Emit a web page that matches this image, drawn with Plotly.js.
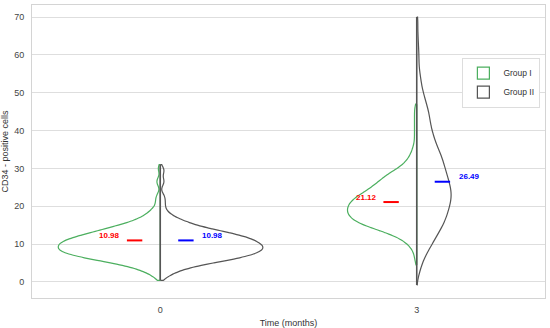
<!DOCTYPE html>
<html><head><meta charset="utf-8">
<script src="https://cdn.plot.ly/plotly-3.0.1.min.js"></script>
<style>html,body{margin:0;padding:0;background:#fff}#chart{width:550px;height:328px}</style>
</head><body><div id="chart"></div>
<script>
// Category labels (x) and groups
var times = ['0', '3'];
var groups = ['Group I', 'Group II'];

// Estimated sample frequency tables
var g1t0Vals   = [1,2,3,4,5,6,7,8,9,10,11,12,13,14,15,16,17,18,19,20,21,22,23,26,27,30];
var g1t0Counts = [1,2,4,6,10,15,19,22,22,22,21,18,15,12,9,6,4,3,2,1,1,1,1,1,1,1];

var g2t0Vals   = [1,2,3,4,5,6,7,8,9,10,11,12,13,14,15,16,17,18,19,20,21,22,23,26,27,29,30];
var g2t0Counts = [1,2,4,6,10,15,18,20,21,20,19,17,14,10,7,5,3,2,1,1,1,1,1,1,1,1,1];

var g1t3Vals   = [6,8,9,10,11,12,13,14,15,16,17,18,19,20,21,22,23,24,25,26,27,28,29,30,31,32,33,34,35,36,38,40,42,44,46];
var g1t3Counts = [1,1,1,2,3,4,7,9,12,14,15,15,16,15,15,14,13,11,10,9,8,7,6,4,3,2,2,1,1,1,1,1,1,1,1];

var g2t3Vals   = [2,4,6,8,10,12,14,16,18,20,22,24,26,28,30,32,34,36,38,40,42,44,46,48,50,52,54,56,58,60,62,65,69];
var g2t3Counts = [1,2,3,5,7,9,11,13,14,15,16,16,15,14,13,12,11,9,8,7,6,6,5,4,3,2,2,1,1,1,1,1,1];

// Extent of each violin (value range of the drawn density)
var spans1 = [[0.4, 31], [4.5, 47]];
var spans2 = [[0.4, 31], [-0.8, 70]];

// Group means shown on the chart
var means1 = [10.98, 21.12];
var means2 = [10.98, 26.49];

var green = '#4caf5f';
var gray  = '#555555';
var FONT = 'Liberation Sans, Arial, sans-serif';

function expand(vals, counts) {
  var out = [];
  for (var i = 0; i < vals.length; i++) for (var j = 0; j < counts[i]; j++) out.push(vals[i]);
  return out;
}
function violin(vals, counts, pos, side, color, name, show, bw, span) {
  var ys = expand(vals, counts);
  return {
    type: 'violin', x: ys.map(function(){ return pos; }), y: ys,
    side: side, name: name, legendgroup: name, showlegend: show,
    line: {color: color, width: 1.2}, fillcolor: 'rgba(0,0,0,0)',
    points: false, box: {visible: false}, meanline: {visible: false},
    bandwidth: bw, spanmode: 'manual', span: span,
    scalegroup: 'all', scalemode: 'width', hoverinfo: 'skip'
  };
}

var data = [
  violin(g1t0Vals, g1t0Counts, 0, 'negative', green, groups[0], true, 1.0, spans1[0]),
  violin(g1t3Vals, g1t3Counts, 1, 'negative', green, groups[0], false, 1.3, spans1[1]),
  violin(g2t0Vals, g2t0Counts, 0, 'positive', gray, groups[1], true, 1.0, spans2[0]),
  violin(g2t3Vals, g2t3Counts, 1, 'positive', gray, groups[1], false, 2.0, spans2[1])
];

// split-violin centre edges
function centreLine(spans, color, width) {
  var xs = [], ys = [];
  spans.forEach(function(s, i) { xs.push(i, i, null); ys.push(s[0], s[1], null); });
  return {type: 'scatter', mode: 'lines', x: xs, y: ys, showlegend: false,
          hoverinfo: 'skip', line: {color: color, width: width}};
}
data.push(centreLine(spans1, green, 1.2));
data.push(centreLine(spans2, gray, 1.6));

function meanLine(means, side, color) {
  var xs = [], ys = [];
  means.forEach(function(m, i) {
    xs.push(i + side * 0.07, i + side * 0.13, null);
    ys.push(m, m, null);
  });
  return {type: 'scatter', mode: 'lines', x: xs, y: ys, showlegend: false,
          hoverinfo: 'skip', line: {color: color, width: 2}};
}
data.push(meanLine(means1, -1, '#ff0000'));
data.push(meanLine(means2, 1, '#0000ff'));

var annotations = [];
means1.forEach(function(m, i) {
  annotations.push({x: i - 0.197, y: m, yshift: 5, text: m.toFixed(2), showarrow: false,
    font: {family: FONT, size: 8, color: '#ff0000', weight: 'bold'}});
});
means2.forEach(function(m, i) {
  annotations.push({x: i + 0.205, y: m, yshift: 5, text: m.toFixed(2), showarrow: false,
    font: {family: FONT, size: 8, color: '#0000ff', weight: 'bold'}});
});

var layout = {
  width: 550, height: 328,
  margin: {l: 32, r: 5, t: 5, b: 30},
  paper_bgcolor: '#ffffff', plot_bgcolor: '#ffffff',
  font: {family: FONT, size: 9, color: '#333333'},
  violinmode: 'overlay', violingap: 0.2, violingroupgap: 0,
  xaxis: {
    range: [-0.5, 1.5], tickvals: [0, 1], ticktext: times,
    showgrid: false, zeroline: false, showline: true, mirror: true,
    linecolor: '#d4d4d4', linewidth: 1,
    ticks: 'outside', ticklen: 3, tickcolor: 'rgba(0,0,0,0)',
    tickfont: {size: 9, color: '#444444'},
    title: {text: 'Time (months)', font: {size: 9, color: '#333333'}, standoff: 6}
  },
  yaxis: {
    range: [-4.24, 73.2], tick0: 0, dtick: 10,
    showgrid: true, gridcolor: '#dedede', gridwidth: 1, zeroline: false,
    showline: true, mirror: true, linecolor: '#d4d4d4', linewidth: 1,
    ticks: 'outside', ticklen: 5, tickcolor: 'rgba(0,0,0,0)',
    tickfont: {size: 9, color: '#444444'},
    title: {text: 'CD34 - positive cells', font: {size: 9, color: '#333333'}, standoff: 4}
  },
  legend: {
    x: 0.991, xanchor: 'right', y: 0.735, yanchor: 'middle',
    bgcolor: '#ffffff', bordercolor: '#dddddd', borderwidth: 1,
    font: {size: 8.5, color: '#333333'}, tracegroupgap: 0
  },
  annotations: annotations
};

Plotly.newPlot('chart', data, layout, {displayModeBar: false, staticPlot: true});
</script>
</body></html>
